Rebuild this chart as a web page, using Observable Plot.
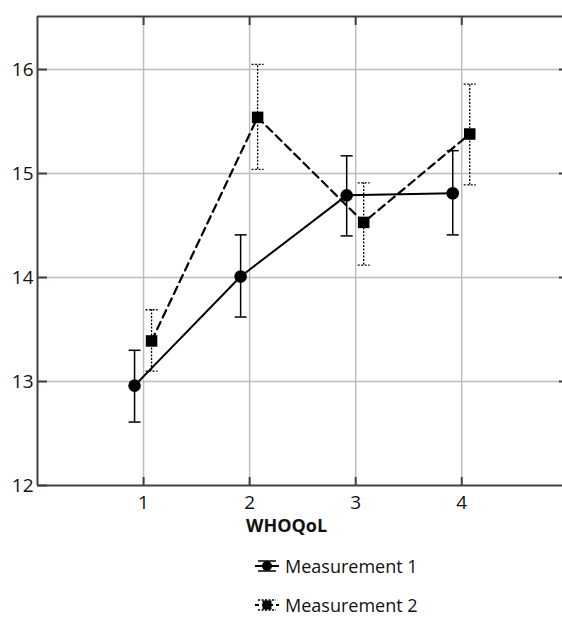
<!DOCTYPE html>
<html><head><meta charset="utf-8">
<script src="https://cdn.jsdelivr.net/npm/d3@7"></script>
<script src="https://cdn.jsdelivr.net/npm/@observablehq/plot@0.6"></script>
<style>
body{margin:0;overflow:hidden;background:#fff;font-family:"Open Sans",sans-serif;color:#111;}
#wrap{position:relative;width:562px;height:617px;overflow:hidden;}
#chart{position:absolute;left:0;top:0;}
#xlabel{position:absolute;left:246px;top:513px;font-weight:bold;font-size:18px;}
.leg{position:absolute;left:255px;font-size:18px;display:flex;align-items:center;height:24px;}
.leg svg{margin-right:6px;}
</style></head><body>
<div id="wrap"><div id="chart"></div>
<div id="xlabel"></div>
<div id="legend"></div></div>
<script>
const waves = [1, 2, 3, 4];
const m1Mean  = [12.96, 14.01, 14.79, 14.81];
const m1Upper = [13.30, 14.41, 15.17, 15.22];
const m1Lower = [12.61, 13.62, 14.40, 14.41];
const m2Mean  = [13.39, 15.54, 14.53, 15.38];
const m2Upper = [13.69, 16.05, 14.91, 15.86];
const m2Lower = [13.10, 15.04, 14.12, 14.89];
const seriesNames = ["Measurement 1", "Measurement 2"];
const xTicks = [1, 2, 3, 4];
const yTicks = [12, 13, 14, 15, 16];
const xTitle = "WHOQoL";
const xDomain = [0, 4.95];
const yDomain = [12, 16.51];

const m1 = waves.map((x, i) => ({x, y: m1Mean[i], lo: m1Lower[i], hi: m1Upper[i]}));
const m2 = waves.map((x, i) => ({x, y: m2Mean[i], lo: m2Lower[i], hi: m2Upper[i]}));

const cap = {draw(ctx) { ctx.moveTo(-6, 0); ctx.lineTo(6, 0); }};
const frameColor = "#404040";
const gridColor = "#bdbdbd";
const fmt = d3.format("d");

const chart = Plot.plot({
  width: 562, height: 545,
  marginLeft: 37, marginRight: 0, marginTop: 16, marginBottom: 60,
  style: {fontFamily: "'Open Sans', sans-serif", fontSize: "19px", color: "#111", background: "#fff"},
  x: {domain: xDomain},
  y: {domain: yDomain},
  marks: [
    Plot.gridX(xTicks, {stroke: gridColor, strokeOpacity: 1, strokeWidth: 1.5}),
    Plot.gridY(yTicks.slice(1), {stroke: gridColor, strokeOpacity: 1, strokeWidth: 1.5}),
    Plot.ruleY([yDomain[0], yDomain[1]], {stroke: frameColor, strokeWidth: 2}),
    Plot.ruleX([xDomain[0]], {stroke: frameColor, strokeWidth: 2}),
    Plot.axisX(xTicks, {anchor: "bottom", tickSize: -8, stroke: frameColor, strokeWidth: 2, tickFormat: () => "", label: null}),
    Plot.axisX(xTicks, {anchor: "top", tickSize: -8, stroke: frameColor, strokeWidth: 2, tickFormat: () => "", label: null}),
    Plot.axisX(xTicks, {anchor: "bottom", tickSize: 0, tickPadding: 10, label: null, fontSize: 19, tickFormat: fmt}),
    Plot.axisY(yTicks, {anchor: "left", tickSize: -10, stroke: frameColor, strokeWidth: 2, tickFormat: () => "", label: null}),
    Plot.axisY(yTicks.slice(1), {anchor: "right", tickSize: -4, stroke: frameColor, strokeWidth: 2, tickFormat: () => "", label: null}),
    Plot.axisY(yTicks, {anchor: "left", tickSize: 0, tickPadding: 4, label: null, fontSize: 19, tickFormat: fmt}),
    // Measurement 2 (dashed, squares, dotted error bars)
    Plot.ruleX(m2, {x: "x", y1: "lo", y2: "hi", dx: 8, stroke: "#000", strokeWidth: 1.3, strokeDasharray: "2,1.5"}),
    Plot.dot(m2, {x: "x", y: "hi", dx: 8, symbol: cap, fill: "none", stroke: "#000", strokeWidth: 1.3, strokeDasharray: "2,1.5"}),
    Plot.dot(m2, {x: "x", y: "lo", dx: 8, symbol: cap, fill: "none", stroke: "#000", strokeWidth: 1.3, strokeDasharray: "2,1.5"}),
    Plot.line(m2, {x: "x", y: "y", dx: 8, stroke: "#000", strokeWidth: 2.2, strokeDasharray: "8,5"}),
    Plot.dot(m2, {x: "x", y: "y", dx: 8, symbol: "square", r: 6.5, fill: "#000", stroke: "none"}),
    // Measurement 1 (solid, circles)
    Plot.ruleX(m1, {x: "x", y1: "lo", y2: "hi", dx: -9, stroke: "#000", strokeWidth: 1.5}),
    Plot.dot(m1, {x: "x", y: "hi", dx: -9, symbol: cap, fill: "none", stroke: "#000", strokeWidth: 1.5}),
    Plot.dot(m1, {x: "x", y: "lo", dx: -9, symbol: cap, fill: "none", stroke: "#000", strokeWidth: 1.5}),
    Plot.line(m1, {x: "x", y: "y", dx: -9, stroke: "#000", strokeWidth: 2}),
    Plot.dot(m1, {x: "x", y: "y", dx: -9, r: 6.3, fill: "#000", stroke: "none"})
  ]
});
document.getElementById("chart").appendChild(chart);
document.getElementById("xlabel").textContent = xTitle;

const legSyms = [
  `<svg width="24" height="16"><line x1="3" y1="3" x2="21" y2="3" stroke="#000" stroke-width="1.5"/><line x1="3" y1="13" x2="21" y2="13" stroke="#000" stroke-width="1.5"/><line x1="0" y1="8" x2="24" y2="8" stroke="#000" stroke-width="2"/><circle cx="12" cy="8" r="5" fill="#000"/></svg>`,
  `<svg width="24" height="16"><line x1="3" y1="3" x2="21" y2="3" stroke="#000" stroke-width="1.3" stroke-dasharray="2,1.5"/><line x1="3" y1="13" x2="21" y2="13" stroke="#000" stroke-width="1.3" stroke-dasharray="2,1.5"/><line x1="0" y1="8" x2="24" y2="8" stroke="#000" stroke-width="2" stroke-dasharray="4,3"/><rect x="7.5" y="3.5" width="9" height="9" fill="#000"/></svg>`
];
const legTops = [554, 593];
const legend = document.getElementById("legend");
seriesNames.forEach((name, i) => {
  const d = document.createElement("div");
  d.className = "leg";
  d.style.top = legTops[i] + "px";
  d.innerHTML = legSyms[i] + `<span>${name}</span>`;
  legend.appendChild(d);
});
</script>
</body></html>
